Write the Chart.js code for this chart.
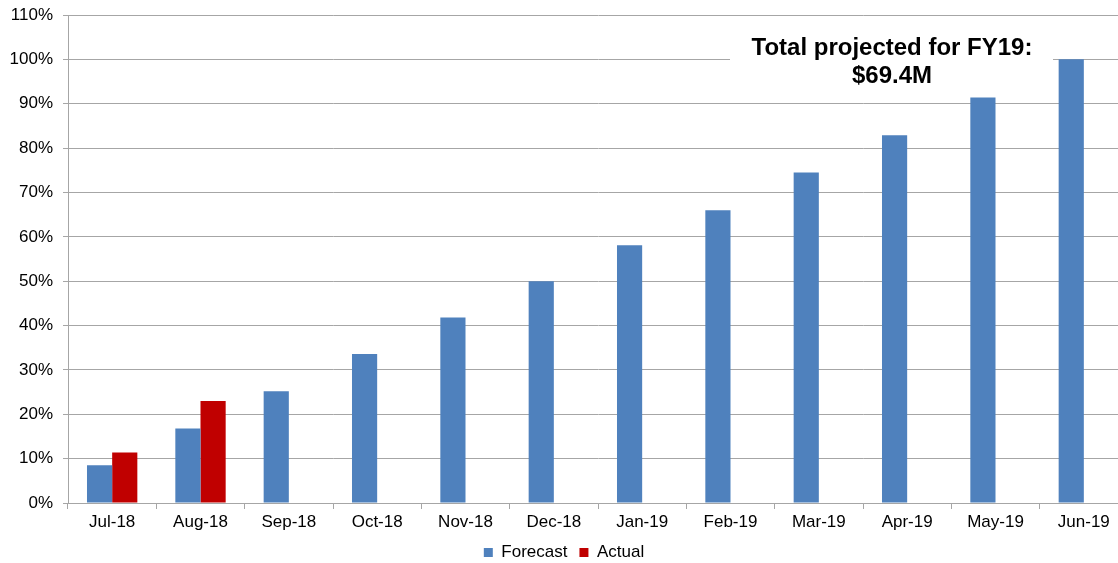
<!DOCTYPE html>
<html>
<head>
<meta charset="utf-8">
<script src="https://cdn.jsdelivr.net/npm/chart.js@4/dist/chart.umd.min.js"></script>
<style>
  html, body { margin: 0; padding: 0; background: #fff; overflow: hidden; }
  #wrap { width: 1128px; height: 563px; }
</style>
</head>
<body>
<div id="wrap"><canvas id="c" width="1128" height="563"></canvas></div>
<script>
const categories = ['Jul-18','Aug-18','Sep-18','Oct-18','Nov-18','Dec-18','Jan-19','Feb-19','Mar-19','Apr-19','May-19','Jun-19'];
const forecast = [8.5, 16.8, 25.2, 33.6, 41.8, 50.0, 58.1, 66.0, 74.5, 82.9, 91.4, 100.0];
const actual = [11.4, 23.0, null, null, null, null, null, null, null, null, null, null];
const annotationLines = ['Total projected for FY19:', '$69.4M'];

const FONT = 'Arial, "Liberation Sans", sans-serif';
const GRID = '#a6a6a6';

const annotationPlugin = {
  id: 'fyNote',
  afterDraw(chart) {
    const ctx = chart.ctx;
    ctx.save();
    ctx.fillStyle = '#ffffff';
    ctx.fillRect(730, 31, 323, 58);
    ctx.fillStyle = '#000000';
    ctx.font = 'bold 24px ' + FONT;
    ctx.textAlign = 'center';
    ctx.textBaseline = 'middle';
    ctx.fillText(annotationLines[0], 892, 48);
    ctx.fillText(annotationLines[1], 892, 76.5);
    ctx.restore();
  }
};

new Chart(document.getElementById('c'), {
  type: 'bar',
  data: {
    labels: categories,
    datasets: [
      { label: 'Forecast', data: forecast, backgroundColor: '#4f81bd', borderWidth: 0 },
      { label: 'Actual', data: actual, backgroundColor: '#c00000', borderWidth: 0 }
    ]
  },
  options: {
    responsive: false,
    animation: false,
    layout: { padding: { top: 15, left: 0, right: 0, bottom: -8 } },
    datasets: { bar: { categoryPercentage: 0.57, barPercentage: 1.0 } },
    plugins: {
      legend: {
        position: 'bottom',
        labels: {
          font: { family: FONT, size: 17 },
          color: '#000',
          boxWidth: 9,
          boxHeight: 9,
          padding: 12
        }
      },
      tooltip: { enabled: false }
    },
    scales: {
      x: {
        grid: { display: true, drawOnChartArea: false, offset: true, color: GRID, tickLength: 6, tickColor: GRID },
        border: { color: GRID, width: 1 },
        ticks: { font: { family: FONT, size: 17 }, color: '#000', padding: 3, maxRotation: 0, autoSkip: false },
        afterFit(s) { s.height = 29; s.paddingLeft = 0; s.paddingRight = 0; }
      },
      y: {
        min: 0, max: 110,
        grid: { color: GRID, tickLength: 5, tickColor: GRID },
        border: { color: GRID, width: 1 },
        ticks: { stepSize: 10, font: { family: FONT, size: 17 }, color: '#000', padding: 10,
          callback: v => v + '%' },
        afterFit(s) { s.width = 68; s.paddingTop = 0; s.paddingBottom = 0; }
      }
    }
  },
  plugins: [annotationPlugin]
});
</script>
</body>
</html>
